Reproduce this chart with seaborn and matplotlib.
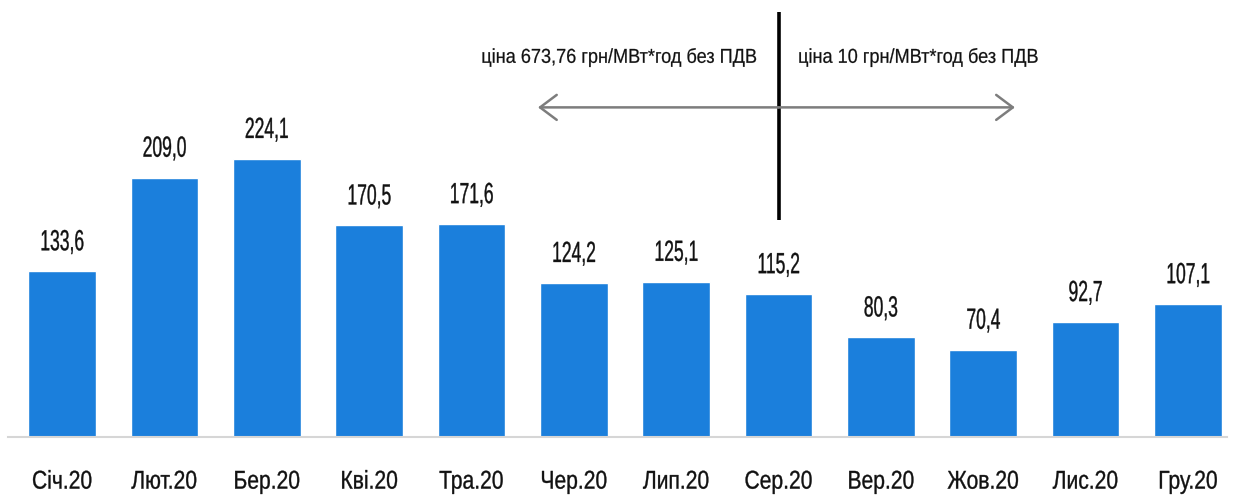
import matplotlib.pyplot as plt
import pandas as pd
import seaborn as sns
from matplotlib.patheffects import AbstractPathEffect
from matplotlib.transforms import Affine2D

sns.set_theme(style="white")
plt.rcParams['font.family'] = ['Liberation Sans', 'DejaVu Sans']

months = ["Січ.20", "Лют.20", "Бер.20", "Кві.20", "Тра.20", "Чер.20",
          "Лип.20", "Сер.20", "Вер.20", "Жов.20", "Лис.20", "Гру.20"]
values = [133.6, 209.0, 224.1, 170.5, 171.6, 124.2,
          125.1, 115.2, 80.3, 70.4, 92.7, 107.1]
left_note = "ціна 673,76 грн/МВт*год без ПДВ"
right_note = "ціна 10 грн/МВт*год без ПДВ"


# the original uses a narrow font; squeeze the glyphs horizontally
# and thicken them a little with an outline of the same colour
class Squeeze(AbstractPathEffect):
    def __init__(self, sx, anchor="center", lw=0.0):
        super().__init__()
        self.sx = sx
        self.anchor = anchor
        self.lw = lw

    def draw_path(self, renderer, gc, tpath, affine, rgbFace=None):
        ext = tpath.get_extents(affine)
        if self.anchor == "left":
            x0 = ext.x0
        elif self.anchor == "right":
            x0 = ext.x1
        else:
            x0 = (ext.x0 + ext.x1) / 2
        squeeze = Affine2D().translate(-x0, 0).scale(self.sx, 1).translate(x0, 0)
        gc0 = renderer.new_gc()
        gc0.copy_properties(gc)
        if self.lw > 0:
            gc0.set_linewidth(self.lw)
            gc0.set_foreground(rgbFace)
        renderer.draw_path(gc0, tpath, affine + squeeze, rgbFace)
        gc0.restore()


df = pd.DataFrame({"month": months, "value": values})

fig = plt.figure(figsize=(12.35, 4.98), dpi=100)
ax = fig.add_axes([0, 61 / 498, 1, 437 / 498])

sns.barplot(data=df, x="month", y="value", color="#1b7fdc", saturation=1,
            width=0.66, ax=ax)

ax.set_xlim(-0.606, 11.46)
ax.set_ylim(0, 352)
for side in ["top", "right", "left"]:
    ax.spines[side].set_visible(False)
ax.spines["bottom"].set_color("#d6d6d6")
ax.spines["bottom"].set_linewidth(1.5)
ax.spines["bottom"].set_bounds(-0.53, 11.38)
ax.set_yticks([])
ax.set_xlabel("")
ax.set_ylabel("")
ax.tick_params(axis="x", length=0, pad=23.5, labelsize=18.5, labelcolor="#111111")
for lab in ax.get_xticklabels():
    lab.set_path_effects([Squeeze(0.82, lw=0.25)])

for i, v in enumerate(values):
    ax.annotate(f"{v:.1f}".replace(".", ","), (i, v), xytext=(0, 15),
                textcoords="offset points", ha="center", va="baseline",
                fontsize=21, color="#111111", path_effects=[Squeeze(0.6, lw=0.25)])

# separator between the two price periods
split = months.index("Сер.20")
ax.plot([split, split], [175, 342.5], color="black", lw=2.6, solid_capstyle="butt")
arrow = dict(arrowstyle="->,head_length=1.0,head_width=0.75",
             color="#7d7d7d", lw=1.8, shrinkA=0, shrinkB=0)
ax.annotate("", xy=(4.65, 265.5), xytext=(split, 265.5), arrowprops=arrow)
ax.annotate("", xy=(9.31, 265.5), xytext=(split, 265.5), arrowprops=arrow)
ax.text(6.79, 301.4, left_note, ha="right", va="baseline", fontsize=14.5,
        color="#111111", path_effects=[Squeeze(0.9, "right", lw=0.15)])
ax.text(7.19, 301.4, right_note, ha="left", va="baseline", fontsize=14.5,
        color="#111111", path_effects=[Squeeze(0.9, "left", lw=0.15)])

fig.savefig("out.png", dpi=100, facecolor="white")
